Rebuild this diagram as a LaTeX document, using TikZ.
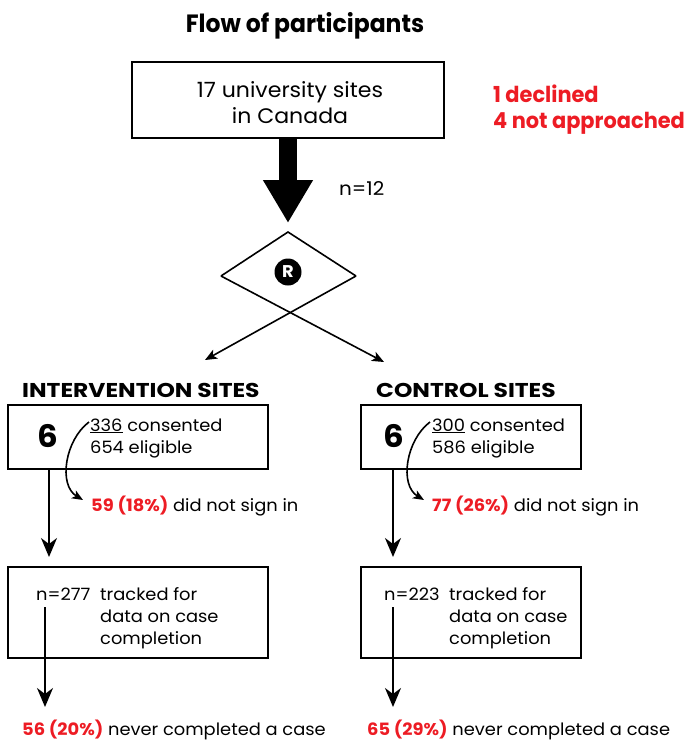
\documentclass[tikz,border=0pt]{standalone}
\usepackage{fontspec}
\setmainfont{Poppins}[FakeStretch=1.05]
\newfontfamily\titlefont{Poppins}[FakeStretch=0.94]
\newfontfamily\headfont{Poppins}[FakeStretch=1.17]
\newfontfamily\notefont{Poppins}[FakeStretch=0.95]
\usetikzlibrary{arrows.meta,calc}
\definecolor{accent}{RGB}{237,28,36}
\begin{document}
\begin{tikzpicture}[x=1pt,y=-1pt,
  box/.style={draw=black, line width=1.8pt, rectangle, inner sep=0pt},
  body/.style={font=\fontsize{17}{22}\selectfont, inner sep=0pt, anchor=base west},
  head/.style={font=\headfont\bfseries\fontsize{20}{24}\selectfont, inner sep=0pt, anchor=base west},
  big/.style={font=\bfseries\fontsize{31}{36}\selectfont, inner sep=0pt, anchor=base},
  redbold/.style={font=\notefont\bfseries\fontsize{22}{26}\selectfont, text=accent, inner sep=0pt, anchor=base west},
  arr/.style={line width=1.8pt, -{Stealth[length=19pt,width=16pt,inset=6pt]}},
  darr/.style={line width=1.6pt, -{Stealth[length=12pt,width=10pt,inset=3pt]}},
  carr/.style={line width=1.6pt, -{Stealth[length=11pt,width=9pt,inset=3pt]}},
  bigarr/.style={line width=18pt, -{Triangle[width=47pt,length=43pt]}},
]
\useasboundingbox (0,0) rectangle (690,740);

% title
\node[font=\titlefont\bfseries\fontsize{25}{30}\selectfont, inner sep=0pt, anchor=base] (title) at (305,32) {Flow of participants};

% top box
\node[box, minimum width=312pt, minimum height=76pt] (sites) at (288,100) {};
\node[font=\fontsize{21}{26}\selectfont, inner sep=0pt, anchor=base] (s1) at (290,97) {17 university sites};
\node[font=\fontsize{21}{26}\selectfont, inner sep=0pt, anchor=base] (s2) at (290,123) {in Canada};

% red notes
\node[redbold] (decl) at (493,102) {1 declined};
\node[redbold] (notap) at (493,128) {4 not approached};

% randomisation diamond
\coordinate (dT) at (288,232);
\coordinate (dL) at (221,276);
\coordinate (dR) at (356,276);
\coordinate (tipL) at (205,360);
\coordinate (tipR) at (384,362);
\draw[bigarr] (sites.south) -- ([yshift=9pt]dT);
\node[font=\fontsize{19}{22}\selectfont, inner sep=0pt, anchor=base west] (n12) at (339,195) {n=12};
\draw[line width=1.6pt, line join=miter] (dL) -- (dT) -- (dR);
\draw[darr] (dR) -- (tipL);
\draw[darr] (dL) -- (tipR);
\node[circle, fill=black, minimum size=27pt, inner sep=0pt, text=white, font=\bfseries\fontsize{17}{17}\selectfont] (R) at (288,272) {R};

% headers
\node[head] (ihead) at (22,397) {INTERVENTION SITES};
\node[head] (chead) at (376,397) {CONTROL SITES};

% intervention block
\node[box, minimum width=260pt, minimum height=64pt] (ibox) at (138,437) {};
\node[big] (i6) at (48,447) {6};
\node[body] (icons) at (90,431) {\underline{336} consented};
\node[body] (ielig) at (90,453) {654 eligible};
\coordinate (ics) at (89,422);
\node[body] (inot) at (91,511) {{\color{accent}\bfseries 59 (18\%)} did not sign in};
\coordinate (ice) at (83,500);
\draw[carr] (ics) .. controls (65,440) and (58,485) .. (ice);

\coordinate (iv1) at (49,469);
\node[box, minimum width=260pt, minimum height=91pt] (itrack) at (138,612.5) {};
\coordinate (iv2) at (49,557);
\draw[arr] (iv1) -- (iv2);
\node[body] (in) at (36,600) {n=277};
\node[body] (it1) at (100,600) {tracked for};
\node[body] (it2) at (100,622) {data on case};
\node[body] (it3) at (100,644) {completion};
\coordinate (iw1) at (45,607);
\coordinate (iw2) at (45,707);
\draw[arr] (iw1) -- (iw2);
\node[body] (inever) at (22,735) {{\color{accent}\bfseries 56 (20\%)} never completed a case};

% control block
\node[box, minimum width=220pt, minimum height=64pt] (cbox) at (471,437) {};
\node[big] (c6) at (394,447) {6};
\node[body] (ccons) at (432,431) {\underline{300} consented};
\node[body] (celig) at (432,453) {586 eligible};
\coordinate (ccs) at (430,422);
\node[body] (cnot) at (432,511) {{\color{accent}\bfseries 77 (26\%)} did not sign in};
\coordinate (cce) at (424,500);
\draw[carr] (ccs) .. controls (406,440) and (399,485) .. (cce);

\coordinate (cv1) at (393,469);
\node[box, minimum width=220pt, minimum height=91pt] (ctrack) at (471,612.5) {};
\coordinate (cv2) at (393,557);
\draw[arr] (cv1) -- (cv2);
\node[body] (cn) at (384,600) {n=223};
\node[body] (ct1) at (449,600) {tracked for};
\node[body] (ct2) at (449,622) {data on case};
\node[body] (ct3) at (449,644) {completion};
\coordinate (cw1) at (393,607);
\coordinate (cw2) at (393,707);
\draw[arr] (cw1) -- (cw2);
\node[body] (cnever) at (367,735) {{\color{accent}\bfseries 65 (29\%)} never completed a case};
\end{tikzpicture}
\end{document}
